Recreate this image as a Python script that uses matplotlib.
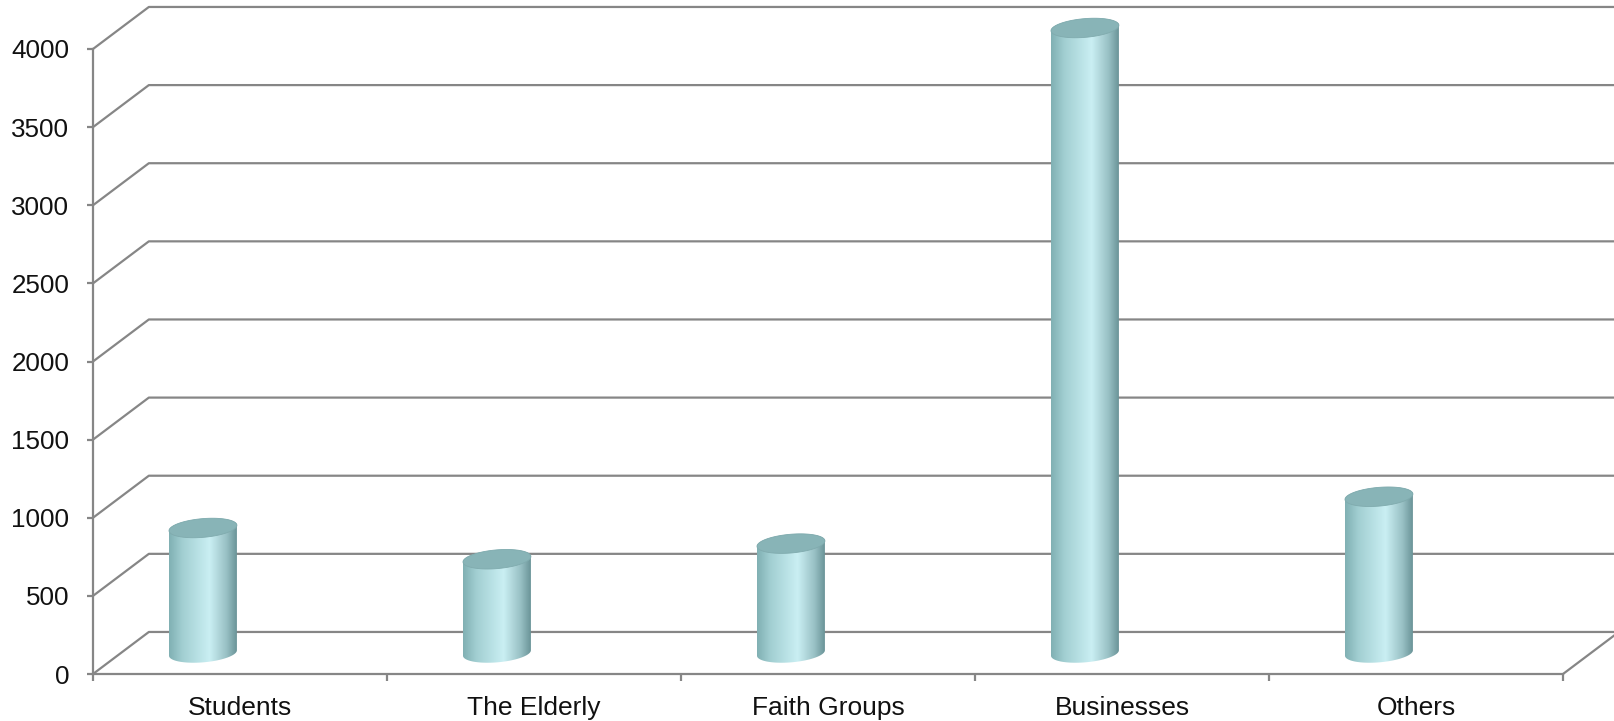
import numpy as np
import matplotlib
matplotlib.use("Agg")
import matplotlib.pyplot as plt
from matplotlib.patches import Polygon
from matplotlib.ticker import FixedLocator

categories = ["Students", "The Elderly", "Faith Groups", "Businesses", "Others"]
values = [800, 600, 700, 4000, 1000]
y_ticks = [0, 500, 1000, 1500, 2000, 2500, 3000, 3500, 4000]

GRID = "#868686"
# oblique depth of the 3d box, in data units
DEPTH_X = 0.19
DEPTH_Y = 269

plt.rcParams["font.family"] = ["Liberation Sans", "DejaVu Sans"]

fig = plt.figure(figsize=(16.14, 7.21), dpi=100)
ax = fig.add_axes([0, 0, 1, 1])
ax.set_facecolor("white")

# back wall gridlines with their diagonal run to the front axis
for v in y_ticks:
    ax.plot([0, DEPTH_X, 6], [v, v + DEPTH_Y, v + DEPTH_Y],
            color=GRID, lw=1.6, solid_capstyle="butt", zorder=1)
# right floor edge
n = len(categories)
ax.plot([n, n + DEPTH_X], [0, DEPTH_Y], color=GRID, lw=1.6, zorder=1)

# front axes as spines
for side in ["top", "right"]:
    ax.spines[side].set_visible(False)
ax.spines["left"].set_position(("data", 0))
ax.spines["bottom"].set_position(("data", 0))
ax.spines["left"].set_bounds(0, 4000)
ax.spines["bottom"].set_bounds(0, n)
for side in ["left", "bottom"]:
    ax.spines[side].set_color(GRID)
    ax.spines[side].set_linewidth(1.6)

ax.set_yticks(y_ticks)
ax.set_yticklabels([str(v) for v in y_ticks])
ax.tick_params(axis="y", direction="out", length=4, width=1.6, color=GRID,
               labelsize=18.7, pad=13, labelcolor="#111111")
ax.set_xticks(np.arange(n) + 0.5)
ax.set_xticklabels(categories)
ax.xaxis.set_minor_locator(FixedLocator(np.arange(n + 1)))
ax.tick_params(axis="x", which="major", length=0, labelsize=19, pad=16,
               labelcolor="#111111")
ax.tick_params(axis="x", which="minor", direction="out", length=5, width=1.6,
               color=GRID)

# cylinder shading across the width
stops = np.array([0.0, 0.2, 0.6, 0.85, 1.0])
cols = np.array([
    [128, 176, 179],
    [162, 207, 210],
    [202, 239, 243],
    [152, 192, 196],
    [106, 148, 152],
]) / 255.0
xs = np.linspace(0, 1, 256)
grad = np.stack([np.interp(xs, stops, cols[:, k]) for k in range(3)], axis=-1)
grad = grad[np.newaxis, :, :]

half_w = 0.1155
half_h = 60
tilt = 150
base = DEPTH_Y / 2
offset = 0.374

t_low = np.linspace(np.pi, 2 * np.pi, 60)
t_up = np.linspace(0, np.pi, 60)

for i, val in enumerate(values):
    cx = i + offset
    top = base + val

    def ring(t, cy):
        x = cx + half_w * np.cos(t)
        y = cy + half_h * np.sin(t) + tilt * (x - cx)
        return np.column_stack([x, y])

    body = np.vstack([ring(t_low, base), ring(t_up, top)])
    clip = Polygon(body, closed=True, facecolor="none", edgecolor="none")
    ax.add_patch(clip)
    im = ax.imshow(grad, extent=[cx - half_w, cx + half_w,
                                 base - 2 * half_h, top + 2 * half_h],
                   aspect="auto", interpolation="bilinear", zorder=3)
    im.set_clip_path(clip)

    cap = ring(np.linspace(0, 2 * np.pi, 120), top)
    ax.add_patch(Polygon(cap, closed=True, facecolor="#88b4b7",
                         edgecolor="#80abae", lw=0.6, zorder=4))

ax.set_xlim(-0.3163, 5.1735)
ax.set_ylim(-300.8, 4313.6)

fig.savefig("out.png", dpi=100, facecolor="white")
